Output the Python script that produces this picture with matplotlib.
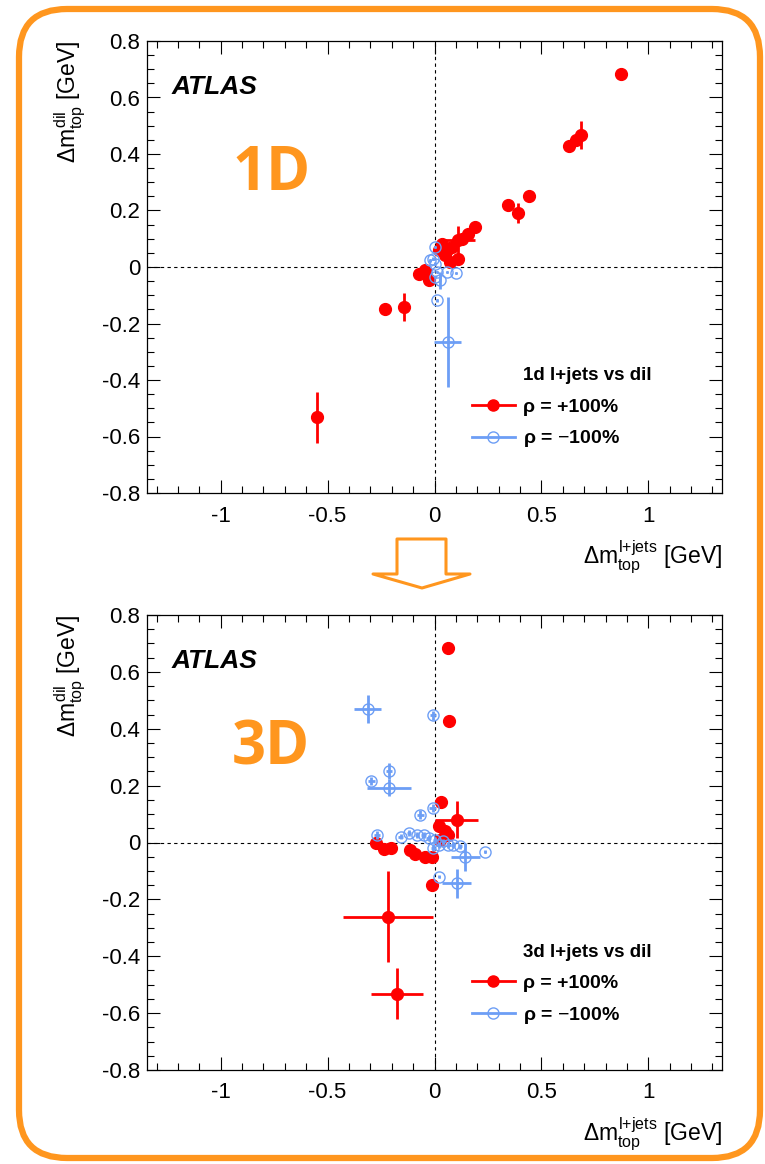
import matplotlib.pyplot as plt
import numpy as np
from matplotlib.lines import Line2D
from matplotlib.patches import FancyBboxPatch, Polygon
from matplotlib.transforms import IdentityTransform
from matplotlib.ticker import MultipleLocator, FuncFormatter

plt.rcParams['font.family'] = ['Liberation Sans', 'DejaVu Sans']
plt.rcParams['mathtext.fontset'] = 'custom'
plt.rcParams['mathtext.rm'] = 'Liberation Sans'
plt.rcParams['mathtext.it'] = 'Liberation Sans'
plt.rcParams['mathtext.bf'] = 'Liberation Sans:bold'
plt.rcParams['axes.unicode_minus'] = False

RED = '#ff0000'
BLUE = '#6d9ef5'
ORANGE = '#ff961e'

# ---- 1D panel: rho = +100%
red1_x = [0.871, 0.6875, 0.66, 0.63, 0.443, 0.389, 0.345, 0.188, 0.157, 0.127, 0.11,
          0.08, 0.111, 0.049, 0.073, 0.034, 0.019, 0.057, -0.074, -0.028, -0.043,
          -0.233, -0.144, -0.55]
red1_y = [0.683, 0.468, 0.448, 0.427, 0.251, 0.192, 0.219, 0.142, 0.118, 0.1, 0.095,
          0.071, 0.03, 0.041, 0.018, 0.083, 0.059, 0.059, -0.026, -0.045, -0.012,
          -0.15, -0.142, -0.532]
red1_xe = [0.01, 0.01, 0.01, 0.01, 0.01, 0.015, 0.01, 0.01, 0.01, 0.01, 0.08,
           0.01, 0.01, 0.01, 0.01, 0.01, 0.01, 0.01, 0.01, 0.01, 0.01,
           0.01, 0.01, 0.025]
red1_ye = [0.01, 0.05, 0.015, 0.01, 0.015, 0.035, 0.01, 0.01, 0.01, 0.01, 0.05,
           0.01, 0.01, 0.01, 0.01, 0.01, 0.01, 0.01, 0.01, 0.01, 0.01,
           0.01, 0.05, 0.09]
# ---- 1D panel: rho = -100%
blue1_x = [0.003, -0.005, 0.003, -0.02, 0.026, 0.057, 0.1, 0.011, 0.011, 0.062, 0.003]
blue1_y = [0.071, 0.03, 0.012, 0.024, -0.047, -0.018, -0.021, -0.018, -0.118, -0.266, -0.035]
blue1_xe = [0.005, 0.005, 0.005, 0.005, 0.005, 0.005, 0.005, 0.005, 0.005, 0.063, 0.005]
blue1_ye = [0.005, 0.005, 0.005, 0.005, 0.03, 0.005, 0.005, 0.005, 0.005, 0.16, 0.005]

# ---- 3D panel: rho = +100%
red3_x = [0.0625, 0.069, 0.029, 0.103, 0.019, 0.049, 0.065, 0.026, -0.275, -0.236,
          -0.205, -0.113, -0.09, -0.043, -0.012, -0.012, -0.218, -0.175]
red3_y = [0.684, 0.428, 0.142, 0.08, 0.057, 0.039, 0.027, 0.009, -0.002, -0.024,
          -0.02, -0.026, -0.04, -0.05, -0.05, -0.15, -0.261, -0.531]
red3_xe = [0.01, 0.015, 0.01, 0.1, 0.01, 0.01, 0.01, 0.01, 0.01, 0.01,
           0.01, 0.01, 0.01, 0.01, 0.01, 0.01, 0.21, 0.12]
red3_ye = [0.01, 0.015, 0.01, 0.065, 0.01, 0.01, 0.01, 0.01, 0.01, 0.01,
           0.01, 0.01, 0.01, 0.01, 0.01, 0.01, 0.16, 0.09]
# ---- 3D panel: rho = -100%
blue3_x = [-0.313, -0.008, -0.295, -0.213, -0.213, -0.066, -0.009, -0.27, -0.159, -0.12,
           -0.082, -0.051, -0.028, 0.003, 0.019, 0.042, 0.065, -0.005, 0.088, 0.119,
           0.145, 0.235, 0.023, 0.103]
blue3_y = [0.47, 0.447, 0.216, 0.252, 0.193, 0.098, 0.122, 0.027, 0.021, 0.033,
           0.027, 0.027, 0.015, 0.009, -0.008, 0.004, -0.008, -0.02, -0.008, -0.014,
           -0.05, -0.032, -0.12, -0.144]
blue3_xe = [0.063, 0.015, 0.015, 0.015, 0.105, 0.015, 0.015, 0.015, 0.01, 0.01,
            0.01, 0.01, 0.01, 0.01, 0.01, 0.01, 0.01, 0.01, 0.01, 0.01,
            0.066, 0.004, 0.004, 0.07]
blue3_ye = [0.05, 0.015, 0.015, 0.027, 0.03, 0.015, 0.015, 0.015, 0.01, 0.01,
            0.01, 0.01, 0.01, 0.01, 0.01, 0.01, 0.01, 0.01, 0.01, 0.01,
            0.05, 0.004, 0.004, 0.05]

fig = plt.figure(figsize=(7.65, 11.64), dpi=100)
ax1 = fig.add_axes([147 / 765, 1 - 493 / 1164, 575 / 765, 452 / 1164])
ax2 = fig.add_axes([147 / 765, 1 - 1070 / 1164, 575 / 765, 455 / 1164])


def fmt(v, pos):
    return f'{v:g}'


def panel(ax, rx, ry, rxe, rye, bx, by, bxe, bye, tag, big):
    ax.axhline(0, color='black', lw=0.8, ls=(0, (3, 3)), zorder=1)
    ax.axvline(0, color='black', lw=0.8, ls=(0, (3, 3)), zorder=1)
    ax.errorbar(rx, ry, xerr=rxe, yerr=rye, fmt='o', color=RED, ms=8.5,
                elinewidth=2, capsize=0, zorder=3)
    ax.errorbar(bx, by, xerr=bxe, yerr=bye, fmt='o', color=BLUE, ms=8,
                mfc='none', mec=BLUE, mew=1.0, elinewidth=2, capsize=0, zorder=4)
    ax.set_xlim(-1.345, 1.345)
    ax.set_ylim(-0.8, 0.8)
    ax.xaxis.set_major_locator(MultipleLocator(0.5))
    ax.xaxis.set_minor_locator(MultipleLocator(0.1))
    ax.yaxis.set_major_locator(MultipleLocator(0.2))
    ax.yaxis.set_minor_locator(MultipleLocator(0.05))
    ax.xaxis.set_major_formatter(FuncFormatter(fmt))
    ax.yaxis.set_major_formatter(FuncFormatter(fmt))
    ax.tick_params(which='both', direction='in', top=True, right=True, width=0.8,
                   labelsize=16)
    ax.tick_params(which='major', length=9.5)
    ax.tick_params(which='minor', length=5)
    ax.tick_params(axis='x', which='major', pad=9)
    ax.tick_params(axis='y', which='major', pad=5)
    for s in ax.spines.values():
        s.set_linewidth(0.9)

    ax.set_xlabel(r'$\Delta m_{\rm top}^{\rm l{+}jets}$ [GeV]', fontsize=16.5, loc='right')
    ax.xaxis.set_label_coords(1.0, -0.10)
    ax.set_ylabel(r'$\Delta m_{\rm top}^{\rm dil}$ [GeV]', fontsize=16.5, loc='top')
    ax.yaxis.set_label_coords(-0.105, 1.0)

    ax.text(0.043, 0.898, 'ATLAS', transform=ax.transAxes, fontsize=19,
            fontweight='bold', fontstyle='italic', va='center', ha='left')
    ax.text(0.148, 0.705, big, transform=ax.transAxes, fontsize=43,
            fontweight='bold', color=ORANGE, family=['Open Sans', 'DejaVu Sans'],
            va='center', ha='left')
    ax.text(0.654, 0.259, tag, transform=ax.transAxes, fontsize=13.5,
            fontweight='bold', va='center', ha='left')

    handles = [Line2D([], [], color=RED, lw=2, marker='o', ms=8),
               Line2D([], [], color=BLUE, lw=2, marker='o', ms=8, mfc='none', mew=1)]
    labels = [r'ρ = +100%', r'ρ = $-$100%']
    ax.legend(handles, labels, loc='upper left', bbox_to_anchor=(0.565, 0.21),
              frameon=False, prop={'size': 14, 'weight': 'bold'},
              handlelength=2.2, handletextpad=0.45, labelspacing=0.65,
              borderpad=0, borderaxespad=0)


panel(ax1, red1_x, red1_y, red1_xe, red1_ye, blue1_x, blue1_y, blue1_xe, blue1_ye,
      '1d l+jets vs dil', '1D')
panel(ax2, red3_x, red3_y, red3_xe, red3_ye, blue3_x, blue3_y, blue3_xe, blue3_ye,
      '3d l+jets vs dil', '3D')

# orange rounded frame (pixel coordinates)
frame = FancyBboxPatch((19, 6), 741, 1149, boxstyle='round,pad=0,rounding_size=48',
                       transform=IdentityTransform(), fill=False, ec=ORANGE, lw=4.5)
fig.patches.append(frame)

# hollow arrow between the panels
arrow_px = [(397, 539), (446, 539), (446, 574), (470, 574), (422, 588), (373, 574), (397, 574)]
arrow = Polygon([(x / 765, 1 - y / 1164) for x, y in arrow_px], closed=True, fill=False,
                ec=ORANGE, lw=2.2, joinstyle='round', transform=fig.transFigure)
fig.patches.append(arrow)

fig.savefig('out.png', dpi=100)
